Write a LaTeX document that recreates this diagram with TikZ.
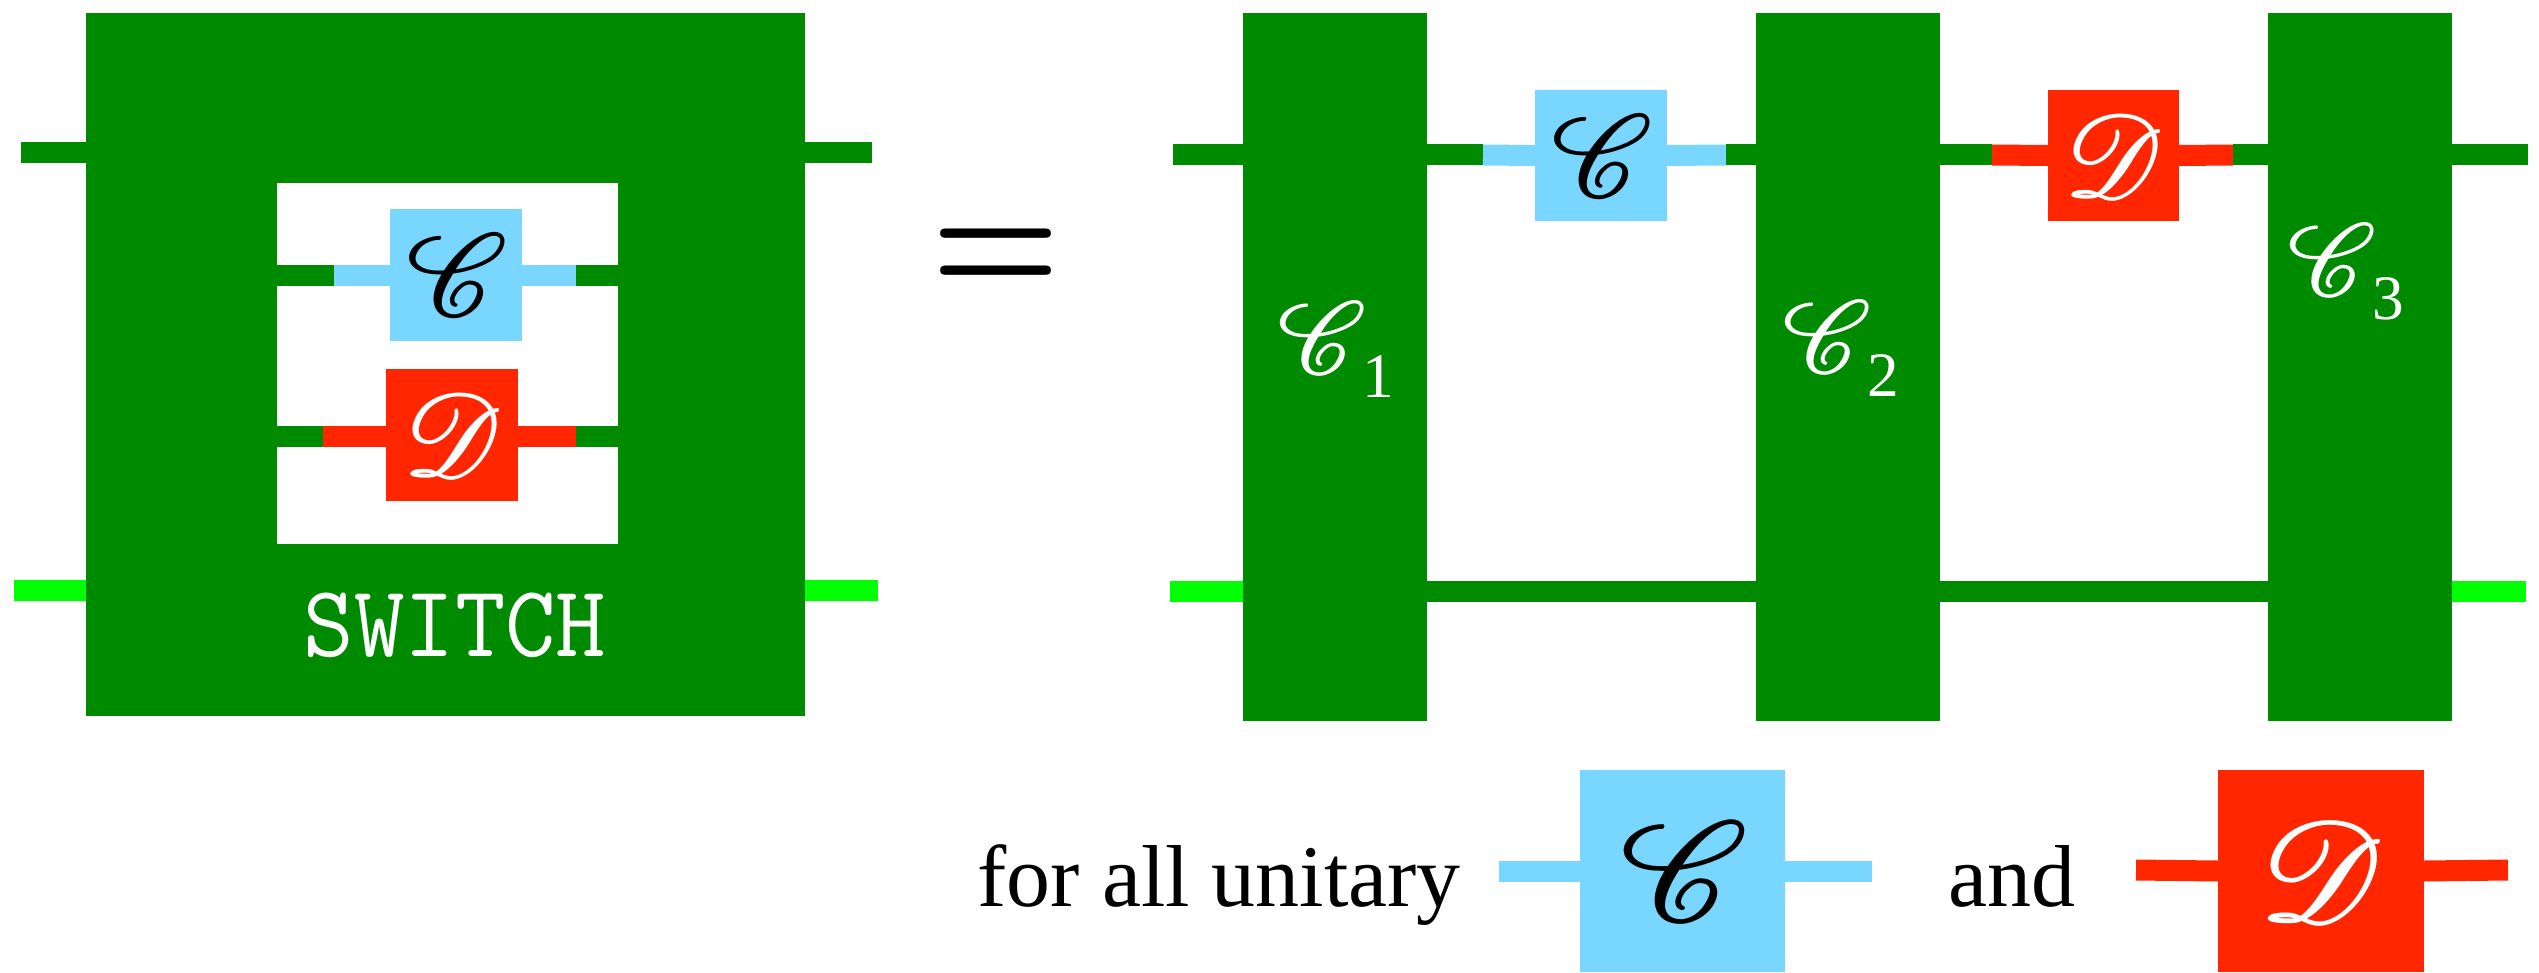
\documentclass[tikz,border=0pt]{standalone}
\usepackage{fontspec}
\usepackage{mathrsfs}
\newfontfamily\legendfont{Liberation Serif}
\definecolor{dkgreen}{RGB}{0,138,0}
\definecolor{ltgreen}{RGB}{0,255,0}
\definecolor{ltblue}{RGB}{120,214,255}
\definecolor{vred}{RGB}{255,38,0}
% script letter taken from the small design size, then enlarged (a little taller than wide)
\newcommand\bigscr[3]{\scalebox{#1}[#2]{\fontsize{5}{6}\selectfont$\mathscr{#3}$}}
\newcommand\chanlabel[1]{\bigscr{5.0}{5.8}{C}\kern-0.8mm\raisebox{-2.4mm}{\fontsize{18}{20}\selectfont\legendfont #1}}
\begin{document}
\begin{tikzpicture}[x=0.1mm,y=-0.1mm,
  blk/.style={fill=dkgreen,draw=none,inner sep=0pt,outer sep=0pt},
  win/.style={fill=white,draw=none,inner sep=0pt,outer sep=0pt},
  cbox/.style={fill=ltblue,draw=none,inner sep=0pt,outer sep=0pt,text=black},
  dbox/.style={fill=vred,draw=none,inner sep=0pt,outer sep=0pt,text=white},
  wireG/.style={draw=dkgreen,line width=2.1mm,line cap=butt},
  wireL/.style={draw=ltgreen,line width=2.1mm,line cap=butt},
  wireB/.style={draw=ltblue,line width=2.1mm,line cap=butt},
  wireR/.style={draw=vred,line width=2.1mm,line cap=butt},
  lbl/.style={text=white,inner sep=0pt,anchor=base},
  legend/.style={inner sep=0pt,anchor=base west,font=\fontsize{25}{30}\selectfont\legendfont}]
\useasboundingbox (0,0) rectangle (2539,972);

% ---- left: the switch with its two slots ----
\node[blk,minimum width=71.9mm,minimum height=70.3mm] (sw) at (445.5,364.5) {};
\node[win,minimum width=34.1mm,minimum height=36.1mm] (win) at (447.5,363.5) {};
\coordinate (swinT) at (21,153);
\coordinate (swoutT) at (872,153);
\coordinate (swinB) at (14,590);
\coordinate (swoutB) at (878,590);
\draw[wireG] (swinT) -- (swinT -| sw.west);
\draw[wireG] (sw.east |- swoutT) -- (swoutT);
\draw[wireL] (swinB) -- (swinB -| sw.west);
\draw[wireL] (sw.east |- swoutB) -- (swoutB);

\node[cbox,minimum width=13.2mm,minimum height=13.2mm] (Ci) at (456,275) {\bigscr{5.7}{6.6}{C}};
\node[dbox,minimum width=13.2mm,minimum height=13.2mm] (Di) at (452,435) {\bigscr{5.7}{6.6}{D}};
\coordinate (ciA) at (334,275.5);
\coordinate (ciB) at (576,275.5);
\coordinate (diA) at (323,436.5);
\coordinate (diB) at (576,436.5);
\draw[wireB] (ciA) -- (Ci.west |- ciA);
\draw[wireB] (Ci.east |- ciB) -- (ciB);
\draw[wireG] (win.west |- ciA) -- (ciA);
\draw[wireG] (ciB) -- (win.east |- ciB);
\draw[wireR] (diA) -- (Di.west |- diA);
\draw[wireR] (Di.east |- diB) -- (diB);
\draw[wireG] (win.west |- diA) -- (diA);
\draw[wireG] (diB) -- (win.east |- diB);
\node[lbl,font=\fontsize{29}{34}\selectfont\ttfamily] (swlabel) at (455,656) {\scalebox{0.96}[1]{SWITCH}};

% ---- equals sign ----
\node[inner sep=0pt,font=\fontsize{42}{46}\selectfont\bfseries] (eq) at (996,262) {\scalebox{1}[1.15]{=}};

% ---- right: comb of three channels ----
\node[blk,minimum width=18.4mm,minimum height=70.8mm] (c1) at (1335,367) {};
\node[blk,minimum width=18.4mm,minimum height=70.8mm] (c2) at (1848,367) {};
\node[blk,minimum width=18.4mm,minimum height=70.8mm] (c3) at (2360,367) {};
\node[cbox,minimum width=13.2mm,minimum height=13.1mm] (Cr) at (1601,155.5) {\bigscr{5.7}{6.6}{C}};
\node[dbox,minimum width=13.1mm,minimum height=13.1mm] (Dr) at (2113.5,155.5) {\bigscr{5.7}{6.6}{D}};

\coordinate (t0) at (1173,155);
\coordinate (t1) at (1483,155);
\coordinate (t2) at (1726,155);
\coordinate (t3) at (1992,155);
\coordinate (t4) at (2233,155);
\coordinate (t5) at (2528,155);
\draw[wireG] (t0) -- (t0 -| c1.west);
\draw[wireG] (c1.east |- t1) -- (t1);
\draw[wireB] (t1) -- (Cr.west);
\draw[wireB] (Cr.east) -- (t2);
\draw[wireG] (t2) -- (t2 -| c2.west);
\draw[wireG] (c2.east |- t3) -- (t3);
\draw[wireR] (t3) -- (Dr.west);
\draw[wireR] (Dr.east) -- (t4);
\draw[wireG] (t4) -- (t4 -| c3.west);
\draw[wireG] (c3.east |- t5) -- (t5);

\coordinate (b0) at (1170,591);
\coordinate (b9) at (2526,591);
\draw[wireL] (b0) -- (b0 -| c1.west);
\draw[wireG] (c1.east |- b0) -- (c2.west |- b0);
\draw[wireG] (c2.east |- b0) -- (c3.west |- b0);
\draw[wireL] (c3.east |- b0) -- (b9);

\node[lbl] (l1) at (1333,373) {\chanlabel{1}};
\node[lbl] (l2) at (1838,372) {\chanlabel{2}};
\node[lbl] (l3) at (2343,295) {\chanlabel{3}};

% ---- legend ----
\node[legend] (forall) at (977,906) {for all unitary};
\node[cbox,minimum width=20.5mm,minimum height=20.2mm] (Cl) at (1682.5,871) {\bigscr{7.2}{8.0}{C}};
\coordinate (la) at (1499,871);
\coordinate (lb) at (1872,871);
\draw[wireB] (la) -- (Cl.west);
\draw[wireB] (Cl.east) -- (lb);
\node[legend] (and) at (1948,906) {and};
\node[dbox,minimum width=20.6mm,minimum height=20.2mm] (Dl) at (2321,871) {\bigscr{7.2}{8.0}{D}};
\coordinate (ld) at (2136,870);
\coordinate (le) at (2508,870);
\draw[wireR] (ld) -- (Dl.west);
\draw[wireR] (Dl.east) -- (le);
\end{tikzpicture}
\end{document}
